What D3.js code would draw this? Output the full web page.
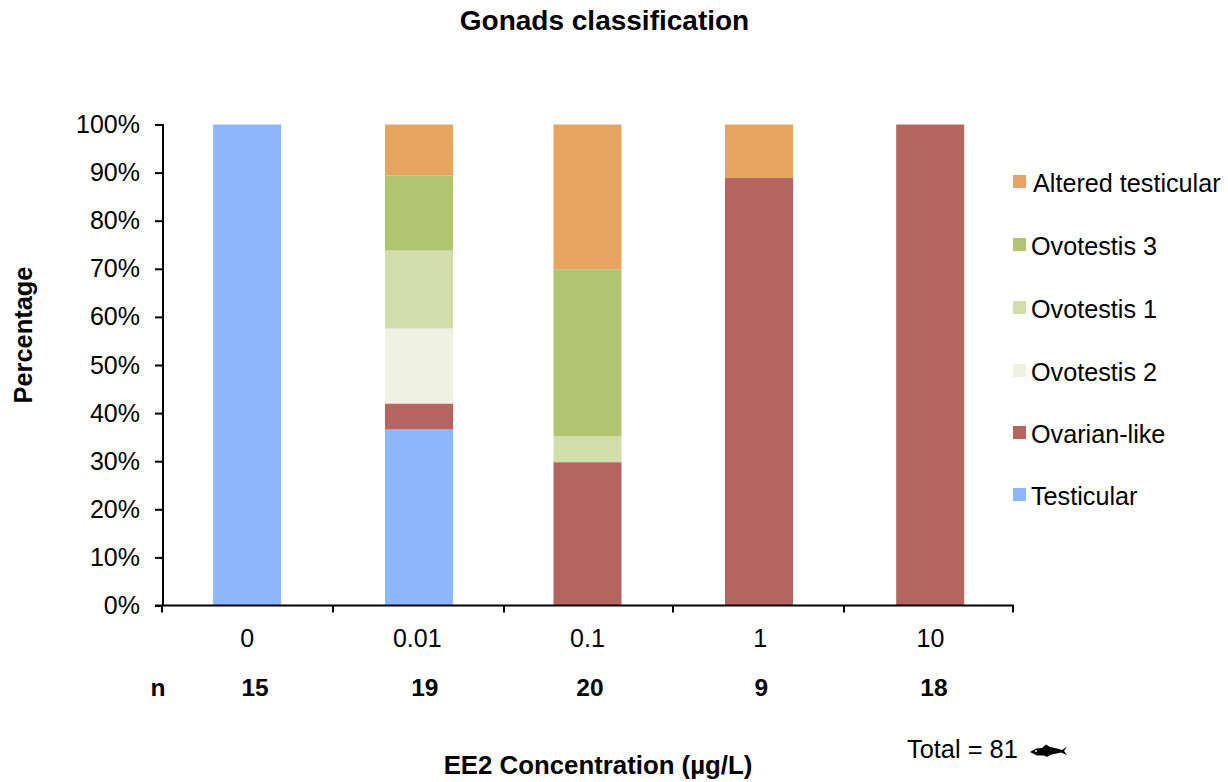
<!DOCTYPE html>
<html><head><meta charset="utf-8">
<script src="https://cdn.jsdelivr.net/npm/d3@7"></script>
<style>html,body{margin:0;padding:0;background:#fff}svg{display:block}text{font-family:"Liberation Sans",Arial,sans-serif;fill:#000}</style>
</head><body><svg id="c" width="1228" height="782"></svg>
<script>
const categories = ["0","0.01","0.1","1","10"];
const nValues = [15,19,20,9,18];
const seriesNames = ["Testicular","Ovarian-like","Ovotestis 2","Ovotestis 1","Ovotestis 3","Altered testicular"];
const testicular = [100,36.6,0,0,0];
const ovarianLike = [0,5.4,29.8,88.9,100];
const ovotestis2 = [0,15.6,0,0,0];
const ovotestis1 = [0,16.2,5.4,0,0];
const ovotestis3 = [0,15.6,34.7,0,0];
const alteredTesticular = [0,10.6,30.1,11.1,0];
const colors = ["#8db7fc","#b46560","#eff1e3","#d3dcab","#b1c470","#e5a55f"];
const yTicks = [0,10,20,30,40,50,60,70,80,90,100];

const seriesValues = [testicular,ovarianLike,ovotestis2,ovotestis1,ovotestis3,alteredTesticular];
const svg = d3.select("#c");
const x = d3.scaleBand().domain(categories).range([162,1013]);
const y = d3.scaleLinear().domain([0,100]).range([605.5,124.5]);
const barW = 68;
const barShift = {"0":0,"0.01":1.7,"0.1":0,"1":1.3,"10":2.3};
const tickShift = [0,0.8,1.6,0.4,1.2,0];
const labelShift = [0,0,0,2.5,2.5];
const nShift = [8,7.5,2.5,3.5,6];
const cx = c => x(c)+x.bandwidth()/2;

const rows = categories.map((c,i)=>{const r={c};seriesNames.forEach((s,k)=>r[s]=seriesValues[k][i]);return r;});
const stacked = d3.stack().keys(seriesNames)(rows);
svg.append("g").selectAll("g").data(stacked).join("g")
  .attr("fill",(d,i)=>colors[i])
  .selectAll("rect").data(d=>d.filter(p=>p[1]>p[0])).join("rect")
  .attr("x",d=>cx(d.data.c)-barW/2+barShift[d.data.c])
  .attr("width",barW)
  .attr("y",d=>y(d[1]))
  .attr("height",d=>y(d[0])-y(d[1]));

// axes
const gy = svg.append("g").attr("transform","translate(163,0)")
  .call(d3.axisLeft(y).tickValues(yTicks).tickFormat(d=>d+"%").tickSize(8).tickPadding(5));
gy.select(".domain").attr("stroke-width",2).attr("d","M0,124V606");
gy.selectAll(".tick line").attr("stroke-width",2);
gy.selectAll("text").attr("font-size",25).style("font-family",'"Liberation Sans",sans-serif').attr("x",-23);

const gx = svg.append("g").attr("transform","translate(0,605.5)");
gx.append("line").attr("x1",155).attr("x2",1014).attr("stroke","#000").attr("stroke-width",2);
gx.selectAll(".t").data(categories.concat(["end"])).join("line").attr("class","t")
  .attr("x1",(d,i)=>(i<5?x(d):1013)+tickShift[i]).attr("x2",(d,i)=>(i<5?x(d):1013)+tickShift[i])
  .attr("y1",0).attr("y2",7).attr("stroke","#000").attr("stroke-width",2);

// category & n labels
svg.append("g").selectAll("text").data(categories).join("text")
  .attr("x",(d,i)=>cx(d)+labelShift[i]).attr("y",647)
  .attr("text-anchor","middle").attr("font-size",25).text(d=>d);
svg.append("g").selectAll("text").data(nValues).join("text")
  .attr("x",(d,i)=>cx(categories[i])+nShift[i]).attr("y",696)
  .attr("text-anchor","middle").attr("font-size",24.5).attr("font-weight","bold").text(d=>d);
svg.append("text").attr("x",158).attr("y",696).attr("text-anchor","middle").attr("font-size",24.5).attr("font-weight","bold").text("n");

// titles
svg.append("text").attr("x",604.5).attr("y",30).attr("text-anchor","middle").attr("font-size",28).attr("font-weight","bold").text("Gonads classification");
svg.append("text").attr("x",598).attr("y",774).attr("text-anchor","middle").attr("font-size",25.8).attr("font-weight","bold").text("EE2 Concentration (µg/L)");
svg.append("text").attr("transform","translate(32,335) rotate(-90)").attr("text-anchor","middle").attr("font-size",25.4).attr("font-weight","bold").text("Percentage");
svg.append("text").attr("x",907).attr("y",758).attr("font-size",25.4).text("Total = 81");

// fish icon
svg.append("path").attr("fill","#000")
  .attr("d","M1030,752 L1036,748.5 L1042,748 L1046,744.5 L1050,747 L1057,748.5 L1062,750 L1067,746.5 L1064,751 L1067,755 L1061,752.5 L1054,754 L1050,755 L1047,757 L1044,755.5 L1037,755.5 Z");
svg.append("circle").attr("cx",1036).attr("cy",751).attr("r",1).attr("fill","#fff");

// legend
const legendOrder = d3.range(seriesNames.length).reverse();
const legY = [182,245,308,371,433,495];
const legX = [1033,1031,1031,1031,1031,1031];
const leg = svg.append("g").selectAll("g").data(legendOrder).join("g");
leg.append("rect").attr("x",1013).attr("y",(d,i)=>legY[i]-7).attr("width",13).attr("height",13).attr("fill",d=>colors[d]);
leg.append("text").attr("x",(d,i)=>legX[i]).attr("y",(d,i)=>legY[i]+10).attr("font-size",25.2)
  .text(d=>seriesNames[d]);
</script></body></html>
